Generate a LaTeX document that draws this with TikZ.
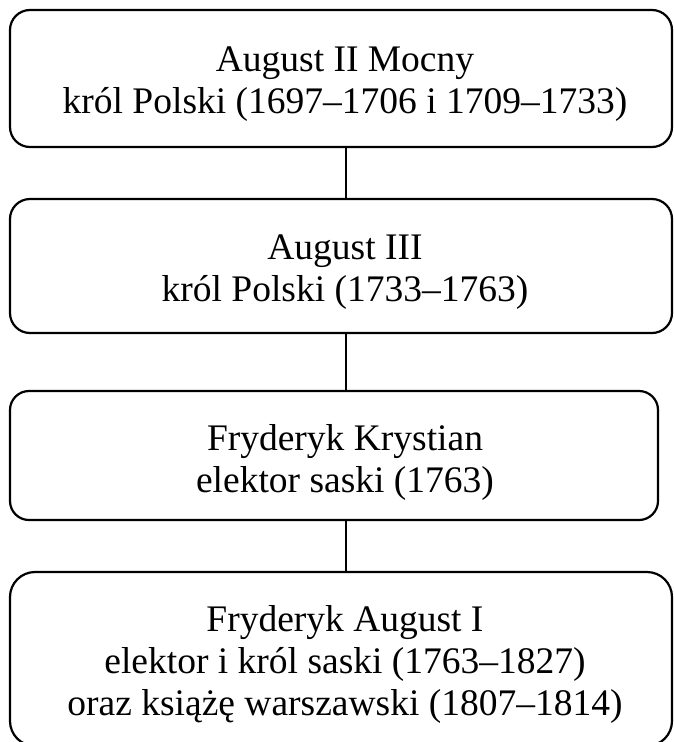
\documentclass[tikz,border=0pt]{standalone}
\usepackage{fontspec}
\setmainfont{Liberation Serif}
\begin{document}
\begin{tikzpicture}[x=1pt,y=-1pt,
  frame/.style={draw, line width=2.2pt, inner sep=0pt},
  label/.style={align=center, font=\fontsize{37.5}{42}\selectfont, inner sep=0pt},
  link/.style={line width=1.8pt}]
\useasboundingbox (0,0) rectangle (673,742);
\clip (0,0) rectangle (673,742);
\node[frame, rounded corners=20pt, minimum width=662pt, minimum height=137pt] (b1) at (341,78.5) {};
\node[frame, rounded corners=20pt, minimum width=662pt, minimum height=134pt] (b2) at (341,266) {};
\node[frame, rounded corners=19pt, minimum width=648pt, minimum height=129pt] (b3) at (334,455.5) {};
\node[frame, rounded corners=25pt, minimum width=662pt, minimum height=174pt] (b4) at (341,659) {};
\node[label] (t1) at (345,84) {August II Mocny\\król Polski (1697–1706 i 1709–1733)};
\node[label] (t2) at (345,272) {August III\\król Polski (1733–1763)};
\node[label] (t3) at (345,462) {Fryderyk Krystian\\elektor saski (1763)};
\node[label] (t4) at (345,664) {Fryderyk August I\\elektor i król saski (1763–1827)\\oraz książę warszawski (1807–1814)};
\coordinate (x) at (346,0);
\draw[link] (b1.south -| x) -- (b2.north -| x);
\draw[link] (b2.south -| x) -- (b3.north -| x);
\draw[link] (b3.south -| x) -- (b4.north -| x);
\end{tikzpicture}
\end{document}
